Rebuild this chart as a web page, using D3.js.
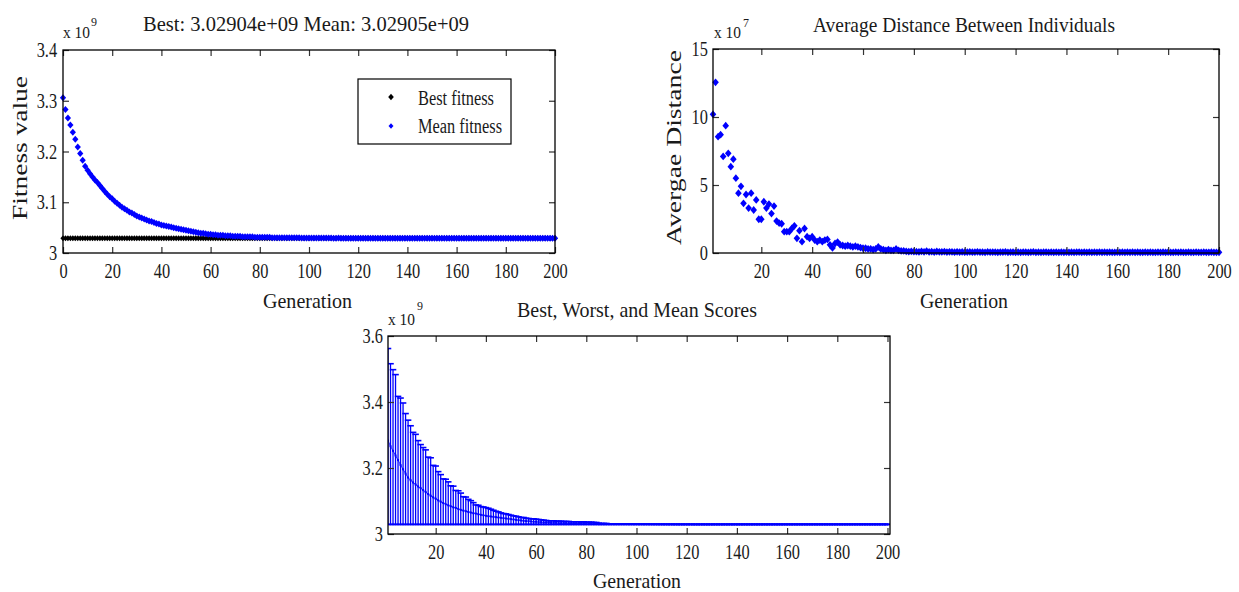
<!DOCTYPE html>
<html>
<head>
<meta charset="utf-8">
<script src="https://cdn.jsdelivr.net/npm/d3@7/dist/d3.min.js"></script>
<style>
  body { margin: 0; background: #fff; }
  svg { font-family: "Liberation Serif", "Times New Roman", serif; }
</style>
</head>
<body>
<svg id="chart"></svg>
<script>
// values are in plotted units: fitness / scores x1e9, distance x1e7

// best fitness stays flat for the whole run (title: Best 3.02904e+09)
const bestValue = 3.02904;

// mean fitness, generations 0..200
const meanFitness = [
  3.306, 3.283, 3.266, 3.252, 3.238, 3.224, 3.209, 3.196, 3.183, 3.171,
  3.163, 3.156, 3.150, 3.144, 3.139, 3.133, 3.127, 3.121, 3.116, 3.111,
  3.107, 3.102, 3.098, 3.094, 3.090, 3.087, 3.084, 3.081, 3.079, 3.076,
  3.073, 3.071, 3.069, 3.067, 3.065, 3.063, 3.062, 3.060, 3.058, 3.057,
  3.055, 3.054, 3.053, 3.052, 3.051, 3.050, 3.049, 3.048, 3.047, 3.046,
  3.045, 3.044, 3.043, 3.042, 3.041, 3.040, 3.039, 3.039, 3.038, 3.037,
  3.037, 3.036, 3.036, 3.035, 3.035, 3.035, 3.034, 3.034, 3.034, 3.033,
  3.033, 3.033, 3.033, 3.032, 3.032, 3.032, 3.032, 3.032, 3.031, 3.031,
  3.031, 3.031, 3.031, 3.031, 3.031, 3.030, 3.030, 3.030, 3.030, 3.030,
  3.030, 3.030, 3.030, 3.030, 3.030, 3.030, 3.030, 3.0298, 3.0298, 3.0297,
  3.0297, 3.0296, 3.0296, 3.0295, 3.0295, 3.0295, 3.0294, 3.0294, 3.0294, 3.0294,
  3.0293, 3.0293, 3.0294, 3.0293, 3.0293, 3.0292, 3.0293, 3.0292, 3.0292, 3.0292,
  3.0292, 3.0292, 3.0292, 3.0291, 3.0292, 3.0291, 3.0292, 3.0291, 3.0291, 3.0291,
  3.0291, 3.0291, 3.0292, 3.0291, 3.0291, 3.0291, 3.0291, 3.0291, 3.0291, 3.0291,
  3.0291, 3.0291, 3.0291, 3.0291, 3.0291, 3.0291, 3.0291, 3.0291, 3.0291, 3.0291,
  3.0291, 3.0291, 3.0291, 3.0291, 3.0291, 3.0291, 3.0291, 3.0291, 3.0291, 3.0291,
  3.0291, 3.0291, 3.0291, 3.0291, 3.0291, 3.0291, 3.0291, 3.0291, 3.0291, 3.0291,
  3.0291, 3.0291, 3.0291, 3.0291, 3.0291, 3.0291, 3.0291, 3.0291, 3.0291, 3.0291,
  3.0291, 3.0291, 3.0291, 3.0291, 3.0291, 3.0291, 3.0291, 3.0291, 3.0291, 3.0291,
  3.0291, 3.0291, 3.0291, 3.0291, 3.0291, 3.0291, 3.0291, 3.0291, 3.0291, 3.0291,
  3.02905
];

// average distance between individuals, generations 1..200
const avgDistance = [
  10.2, 12.55, 8.55, 8.7, 7.1, 9.36, 7.33, 6.35, 6.9, 5.5,
  4.4, 4.9, 3.65, 4.3, 3.3, 4.4, 3.16, 3.9, 2.48, 2.48,
  3.77, 3.3, 3.6, 2.9, 3.45, 2.35, 2.2, 2.15, 1.57, 1.57,
  1.57, 1.8, 2.0, 1.08, 1.64, 0.83, 1.8, 1.2, 1.08, 1.2,
  0.95, 0.83, 0.95, 0.83, 0.95, 1.0, 0.6, 0.37, 0.7, 0.8,
  0.6, 0.55, 0.5, 0.55, 0.5, 0.45, 0.5, 0.45, 0.4, 0.35,
  0.35, 0.3, 0.3, 0.25, 0.3, 0.45, 0.3, 0.25, 0.2, 0.25,
  0.2, 0.2, 0.3, 0.2, 0.15, 0.15, 0.12, 0.1, 0.12, 0.1,
  0.10, 0.08, 0.12, 0.09, 0.14, 0.08, 0.10, 0.07, 0.11, 0.09,
  0.08, 0.10, 0.07, 0.09, 0.08, 0.06, 0.09, 0.07, 0.08, 0.06,
  0.07, 0.08, 0.06, 0.07, 0.09, 0.06, 0.07, 0.05, 0.08, 0.06,
  0.07, 0.06, 0.05, 0.07, 0.06, 0.08, 0.05, 0.06, 0.07, 0.05,
  0.06, 0.05, 0.07, 0.06, 0.05, 0.06, 0.08, 0.05, 0.06, 0.05,
  0.06, 0.07, 0.05, 0.06, 0.05, 0.06, 0.05, 0.07, 0.05, 0.06,
  0.05, 0.06, 0.05, 0.06, 0.07, 0.05, 0.06, 0.05, 0.06, 0.05,
  0.06, 0.05, 0.07, 0.05, 0.06, 0.05, 0.06, 0.05, 0.05, 0.06,
  0.05, 0.06, 0.05, 0.06, 0.05, 0.07, 0.05, 0.06, 0.05, 0.05,
  0.06, 0.05, 0.06, 0.05, 0.05, 0.06, 0.05, 0.06, 0.05, 0.06,
  0.05, 0.05, 0.06, 0.05, 0.06, 0.05, 0.05, 0.06, 0.05, 0.05,
  0.06, 0.05, 0.05, 0.06, 0.05, 0.05, 0.06, 0.05, 0.05, 0.05
];

// worst score, generations 1..200
const worstScores = [
  3.562, 3.516, 3.498, 3.483, 3.417, 3.412, 3.397, 3.365, 3.345, 3.328,
  3.308, 3.302, 3.283, 3.271, 3.262, 3.255, 3.233, 3.231, 3.208, 3.206,
  3.189, 3.180, 3.167, 3.166, 3.158, 3.146, 3.145, 3.132, 3.131, 3.124,
  3.113, 3.112, 3.105, 3.101, 3.095, 3.088, 3.087, 3.083, 3.082, 3.080,
  3.078, 3.075, 3.072, 3.069, 3.067, 3.064, 3.062, 3.061, 3.059, 3.057,
  3.055, 3.054, 3.052, 3.050, 3.050, 3.048, 3.047, 3.046, 3.046, 3.045,
  3.044, 3.043, 3.042, 3.041, 3.040, 3.040, 3.040, 3.039, 3.039, 3.039,
  3.038, 3.038, 3.038, 3.037, 3.037, 3.037, 3.037, 3.036, 3.037, 3.036,
  3.036, 3.036, 3.035, 3.035, 3.033, 3.032, 3.032, 3.032, 3.031, 3.031,
  3.031, 3.031, 3.031, 3.031, 3.0305, 3.0303, 3.0302, 3.0301, 3.0300, 3.0299,
  3.0299, 3.0298, 3.0298, 3.0297, 3.0297, 3.0296, 3.0296, 3.0296, 3.0295, 3.0295,
  3.0295, 3.0294, 3.0294, 3.0294, 3.0294, 3.0293, 3.0293, 3.0293, 3.0293, 3.0293,
  3.0293, 3.0293, 3.0292, 3.0292, 3.0292, 3.0292, 3.0292, 3.0292, 3.0292, 3.0292,
  3.0292, 3.0292, 3.0292, 3.0292, 3.0292, 3.0292, 3.0292, 3.0292, 3.0292, 3.0292,
  3.0292, 3.0292, 3.0292, 3.0292, 3.0292, 3.0292, 3.0292, 3.0292, 3.0292, 3.0292,
  3.0292, 3.0292, 3.0292, 3.0292, 3.0292, 3.0292, 3.0292, 3.0292, 3.0292, 3.0292,
  3.0292, 3.0292, 3.0292, 3.0292, 3.0292, 3.0292, 3.0292, 3.0292, 3.0292, 3.0292,
  3.0292, 3.0292, 3.0292, 3.0292, 3.0292, 3.0292, 3.0292, 3.0292, 3.0292, 3.0292,
  3.0292, 3.0292, 3.0292, 3.0292, 3.0292, 3.0292, 3.0292, 3.0292, 3.0292, 3.0292,
  3.0292, 3.0292, 3.0292, 3.0292, 3.0292, 3.0292, 3.0292, 3.0292, 3.0292, 3.0292
];

// tick labels
const genTicksFull = [0, 20, 40, 60, 80, 100, 120, 140, 160, 180, 200];
const genTicks = [20, 40, 60, 80, 100, 120, 140, 160, 180, 200];
const fitnessTicks = [3, 3.1, 3.2, 3.3, 3.4];
const distanceTicks = [0, 5, 10, 15];
const scoreTicks = [3, 3.2, 3.4, 3.6];

// colors
const blue = '#0000ff';
const textColor = '#1a1a1a';
const tickColor = '#333';

const width = 1239;
const height = 592;

const svg = d3.select('#chart')
    .attr('width', width)
    .attr('height', height);

function label(str, x, y, size, len, rotated) {
    const t = svg.append('text')
        .attr('font-size', size)
        .attr('fill', textColor)
        .text(str);
    if (rotated) t.attr('transform', `translate(${x},${y}) rotate(-90)`);
    else t.attr('x', x).attr('y', y);
    if (len) t.attr('textLength', len).attr('lengthAdjust', 'spacingAndGlyphs');
    return t;
}

// box with inward ticks on every side, MATLAB style
function frame(x, y, xVals, yVals, yPad) {
    const [x0, x1] = x.range();
    const [y0, y1] = y.range();
    const g = svg.append('g');

    g.append('g').attr('transform', `translate(0,${y0})`)
        .call(d3.axisBottom(x).tickValues(xVals).tickSize(-6).tickSizeOuter(0).tickPadding(10));
    g.append('g').attr('transform', `translate(0,${y1})`)
        .call(d3.axisTop(x).tickValues(xVals).tickSize(-6).tickSizeOuter(0).tickFormat(''));
    g.append('g').attr('transform', `translate(${x0},0)`)
        .call(d3.axisLeft(y).tickValues(yVals).tickSize(-6).tickSizeOuter(0).tickPadding(yPad).tickFormat(d => String(d)));
    g.append('g').attr('transform', `translate(${x1},0)`)
        .call(d3.axisRight(y).tickValues(yVals).tickSize(-6).tickSizeOuter(0).tickFormat(''));

    g.selectAll('.domain').remove();
    g.selectAll('.tick line').attr('stroke', tickColor).attr('stroke-width', 1.2);
    g.selectAll('.tick text')
        .attr('font-family', '"Liberation Serif", serif')
        .attr('font-size', 21)
        .attr('fill', textColor)
        .attr('transform', 'scale(0.78,1)');

    g.append('rect')
        .attr('x', x0).attr('y', y1)
        .attr('width', x1 - x0).attr('height', y0 - y1)
        .attr('fill', 'none')
        .attr('stroke', '#000')
        .attr('stroke-width', 1.3);
    return g;
}

function diamond(w, h) {
    return `M0,${-h}L${w},0L0,${h}L${-w},0Z`;
}

function multiplier(x, y, power, supX, supY) {
    label('x 10', x, y, 17, 27);
    label(power, supX, supY, 12);
}

// ---------- top left: fitness ----------
const x1 = d3.scaleLinear().domain([0, 200]).range([63, 555]);
const y1 = d3.scaleLinear().domain([3, 3.4]).range([253, 50]);

const p1 = svg.append('g');
p1.selectAll('path.best')
    .data(meanFitness)
    .enter()
    .append('path')
        .attr('class', 'best')
        .attr('d', diamond(2.6, 3))
        .attr('transform', (d, i) => `translate(${x1(i)},${y1(bestValue)})`)
        .attr('fill', '#000');
p1.selectAll('path.mean')
    .data(meanFitness)
    .enter()
    .append('path')
        .attr('class', 'mean')
        .attr('d', diamond(3.1, 3.5))
        .attr('transform', (d, i) => `translate(${x1(i)},${y1(d)})`)
        .attr('fill', blue);

frame(x1, y1, genTicksFull, fitnessTicks, 7.5);

label('Best: 3.02904e+09 Mean: 3.02905e+09', 143, 31, 21, 326);
multiplier(63, 38, '9', 91, 26);
label('Fitness value', 27, 220, 21, 144, true);
label('Generation', 263, 308, 21, 89);

// legend
const legend = svg.append('g');
legend.append('rect')
    .attr('x', 358).attr('y', 79)
    .attr('width', 153).attr('height', 65)
    .attr('fill', '#fff')
    .attr('stroke', '#000')
    .attr('stroke-width', 1.2);
legend.append('path').attr('d', diamond(2.8, 3.3)).attr('transform', 'translate(391,97)').attr('fill', '#000');
legend.append('path').attr('d', diamond(2.5, 2.8)).attr('transform', 'translate(391,126)').attr('fill', blue);
label('Best fitness', 418, 105, 20, 76);
label('Mean fitness', 418, 133, 20, 84);

// ---------- top right: average distance ----------
const x2 = d3.scaleLinear().domain([1, 200]).range([713, 1219]);
const y2 = d3.scaleLinear().domain([0, 15]).range([253, 49]);

svg.append('g').selectAll('path')
    .data(avgDistance)
    .enter()
    .append('path')
        .attr('d', diamond(3.3, 3.9))
        .attr('transform', (d, i) => `translate(${x2(i + 1)},${y2(d)})`)
        .attr('fill', blue);

frame(x2, y2, genTicks, distanceTicks, 6.5);

label('Average Distance Between Individuals', 813, 32, 21, 302);
multiplier(714, 38, '7', 743, 27);
label('Avergae Distance', 681, 245, 21, 195, true);
label('Generation', 920, 308, 21, 88);

// ---------- bottom: best, worst, mean ----------
const x3 = d3.scaleLinear().domain([1, 201]).range([388, 890]);
const y3 = d3.scaleLinear().domain([3, 3.6]).range([534, 336]);
const tee = 1.3;

svg.append('clipPath').attr('id', 'clip3')
    .append('rect')
        .attr('x', 388).attr('y', 330)
        .attr('width', 502).attr('height', 204);

const p3 = svg.append('g').attr('clip-path', 'url(#clip3)');

p3.selectAll('line.bar')
    .data(worstScores)
    .enter()
    .append('line')
        .attr('class', 'bar')
        .attr('x1', (d, i) => x3(i + 1))
        .attr('x2', (d, i) => x3(i + 1))
        .attr('y1', y3(bestValue))
        .attr('y2', d => y3(d))
        .attr('stroke', blue)
        .attr('stroke-width', 1.3);

p3.selectAll('line.capTop')
    .data(worstScores)
    .enter()
    .append('line')
        .attr('class', 'capTop')
        .attr('x1', (d, i) => x3(i + 1 - tee))
        .attr('x2', (d, i) => x3(i + 1 + tee))
        .attr('y1', d => y3(d))
        .attr('y2', d => y3(d))
        .attr('stroke', blue)
        .attr('stroke-width', 1.6);

p3.selectAll('line.capLow')
    .data(worstScores)
    .enter()
    .append('line')
        .attr('class', 'capLow')
        .attr('x1', (d, i) => x3(i + 1 - tee))
        .attr('x2', (d, i) => x3(i + 1 + tee))
        .attr('y1', y3(bestValue))
        .attr('y2', y3(bestValue))
        .attr('stroke', blue)
        .attr('stroke-width', 1.6);

const meanScores = meanFitness.slice(1);
p3.append('path')
    .datum(meanScores)
    .attr('d', d3.line().x((d, i) => x3(i + 1)).y(d => y3(d)))
    .attr('fill', 'none')
    .attr('stroke', blue)
    .attr('stroke-width', 0.8);
p3.selectAll('rect.meanDot')
    .data(meanScores)
    .enter()
    .append('rect')
        .attr('class', 'meanDot')
        .attr('x', (d, i) => x3(i + 1) - 1)
        .attr('y', d => y3(d) - 1)
        .attr('width', 2).attr('height', 2)
        .attr('fill', blue);

frame(x3, y3, genTicks, scoreTicks, 6.5);

label('Best, Worst, and Mean Scores', 517, 317, 21, 240);
multiplier(388, 325, '9', 417, 310);
label('Generation', 593, 588, 21, 88);
</script>
</body>
</html>
